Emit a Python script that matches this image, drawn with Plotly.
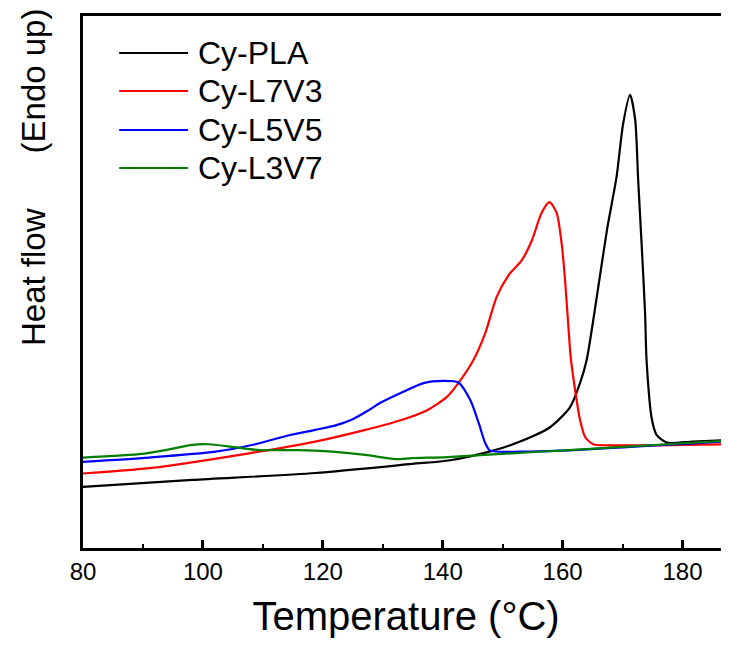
import plotly.graph_objects as go

# Temperature (°C) and heat flow (arbitrary units, endo up)
pla_T = [80, 98.25, 118.75, 134.9, 141.25, 148.4, 152.9, 157.9, 161.25, 162.9, 164.0, 165.7, 167.4, 169.0, 170.1, 171.25, 172.1, 172.6, 173.2, 173.75, 174.0, 174.9, 175.7, 177.4, 181.75, 187.7]
pla_H = [11.5, 12.8, 14.1, 15.8, 16.5, 18.3, 20.0, 22.7, 26.5, 31.0, 35.3, 47.2, 59.8, 69.8, 79.8, 85.2, 80.5, 69.2, 56.6, 44.2, 35.3, 24.1, 21.2, 19.8, 20.0, 20.3]

l7v3_T = [80, 91.0, 107.7, 118.75, 127.1, 133.25, 137.4, 140.7, 142.6, 145.1, 147.1, 149.0, 151.0, 153.2, 154.9, 156.5, 157.8, 159.0, 159.9, 160.4, 161.0, 161.4, 162.9, 163.75, 165.1, 167.9, 187.7]
l7v3_H = [14.0, 15.0, 17.8, 20.0, 22.2, 24.1, 25.9, 28.4, 31.0, 35.3, 40.4, 47.2, 51.3, 54.1, 57.9, 63.0, 65.0, 63.0, 56.6, 50.4, 41.0, 35.3, 24.1, 20.9, 19.5, 19.3, 19.5]

l5v5_T = [80, 91.0, 102.1, 108.75, 114.4, 118.75, 122.0, 125.0, 127.5, 129.6, 132.9, 136.8, 140.1, 142.6, 144.6, 146.0, 147.1, 147.9, 152.9, 159.6, 187.7]
l5v5_H = [16.2, 17.0, 18.1, 19.5, 21.2, 22.2, 23.0, 24.2, 25.8, 27.3, 29.1, 31.0, 31.4, 31.1, 27.8, 23.5, 19.7, 18.3, 18.1, 18.3, 20.1]

l3v7_T = [80, 89.9, 93.75, 98.25, 101.0, 104.9, 109.4, 116.0, 121.6, 127.1, 132.1, 134.9, 140.75, 154.6, 159.6, 187.7]
l3v7_H = [17.0, 17.7, 18.4, 19.4, 19.5, 19.0, 18.4, 18.4, 18.1, 17.5, 16.7, 16.9, 17.1, 18.0, 18.3, 20.2]

names = ["Cy-PLA", "Cy-L7V3", "Cy-L5V5", "Cy-L3V7"]
colors = ["#000000", "#ff0000", "#0000ff", "#007f00"]
series = [(pla_T, pla_H), (l7v3_T, l7v3_H), (l5v5_T, l5v5_H), (l3v7_T, l3v7_H)]

x_ticks = [80, 100, 120, 140, 160, 180]

fig = go.Figure()
for name, col, (T, H) in zip(names, colors, series):
    fig.add_trace(go.Scatter(x=T, y=H, mode="lines", name=name,
                             line=dict(color=col, width=2.2, shape="spline", smoothing=0.7),
                             showlegend=False))

# page has an 8px body margin: figure coords = window coords - 8
W, H = 721, 630
L, R, T_, B = 74.5, 0, 8, 90
pw, ph = W - L - R, H - T_ - B

# manual legend (paper coordinates)
leg_y = [53, 91, 130, 168]   # window y of legend rows
for name, col, ly in zip(names, colors, leg_y):
    yp = (540 - (ly - 8)) / ph
    fig.add_shape(type="line", xref="paper", yref="paper",
                  x0=(118.7 - 82.5) / pw, x1=(187.7 - 82.5) / pw, y0=yp, y1=yp,
                  line=dict(color=col, width=2.2))
    fig.add_annotation(xref="paper", yref="paper", x=(196 - 82.5) / pw, y=yp,
                       text=name, showarrow=False, xanchor="left", yanchor="middle",
                       font=dict(size=32, color="black", family="Liberation Sans, Arial"))

fig.add_annotation(xref="paper", yref="paper", x=-50 / pw, y=(540 - 169) / ph,
                   text="Heat flow      (Endo up)", showarrow=False, textangle=-90,
                   xanchor="center", yanchor="middle",
                   font=dict(size=33, color="black", family="Liberation Sans, Arial"))

fig.update_layout(
    width=W, height=H,
    margin=dict(l=L, r=R, t=T_, b=B),
    plot_bgcolor="white", paper_bgcolor="white",
    font=dict(family="Liberation Sans, Arial", color="black"),
    xaxis=dict(range=[80, 187.75], tickvals=x_ticks, ticktext=[str(v) for v in x_ticks],
               ticks="inside", ticklen=8, tickwidth=2.5, tickcolor="black",
               minor=dict(dtick=10, tick0=80, ticks="inside", ticklen=4, tickwidth=2, tickcolor="black"),
               showline=True, linecolor="black", linewidth=3, mirror=True,
               showgrid=False, zeroline=False,
               tickfont=dict(size=24),
               title=dict(text="Temperature (\u00b0C)", font=dict(size=40), standoff=25)),
    yaxis=dict(range=[0, 100], showticklabels=False, ticks="",
               showline=True, linecolor="black", linewidth=3,
               showgrid=False, zeroline=False),
)

fig.write_html("out.html")
